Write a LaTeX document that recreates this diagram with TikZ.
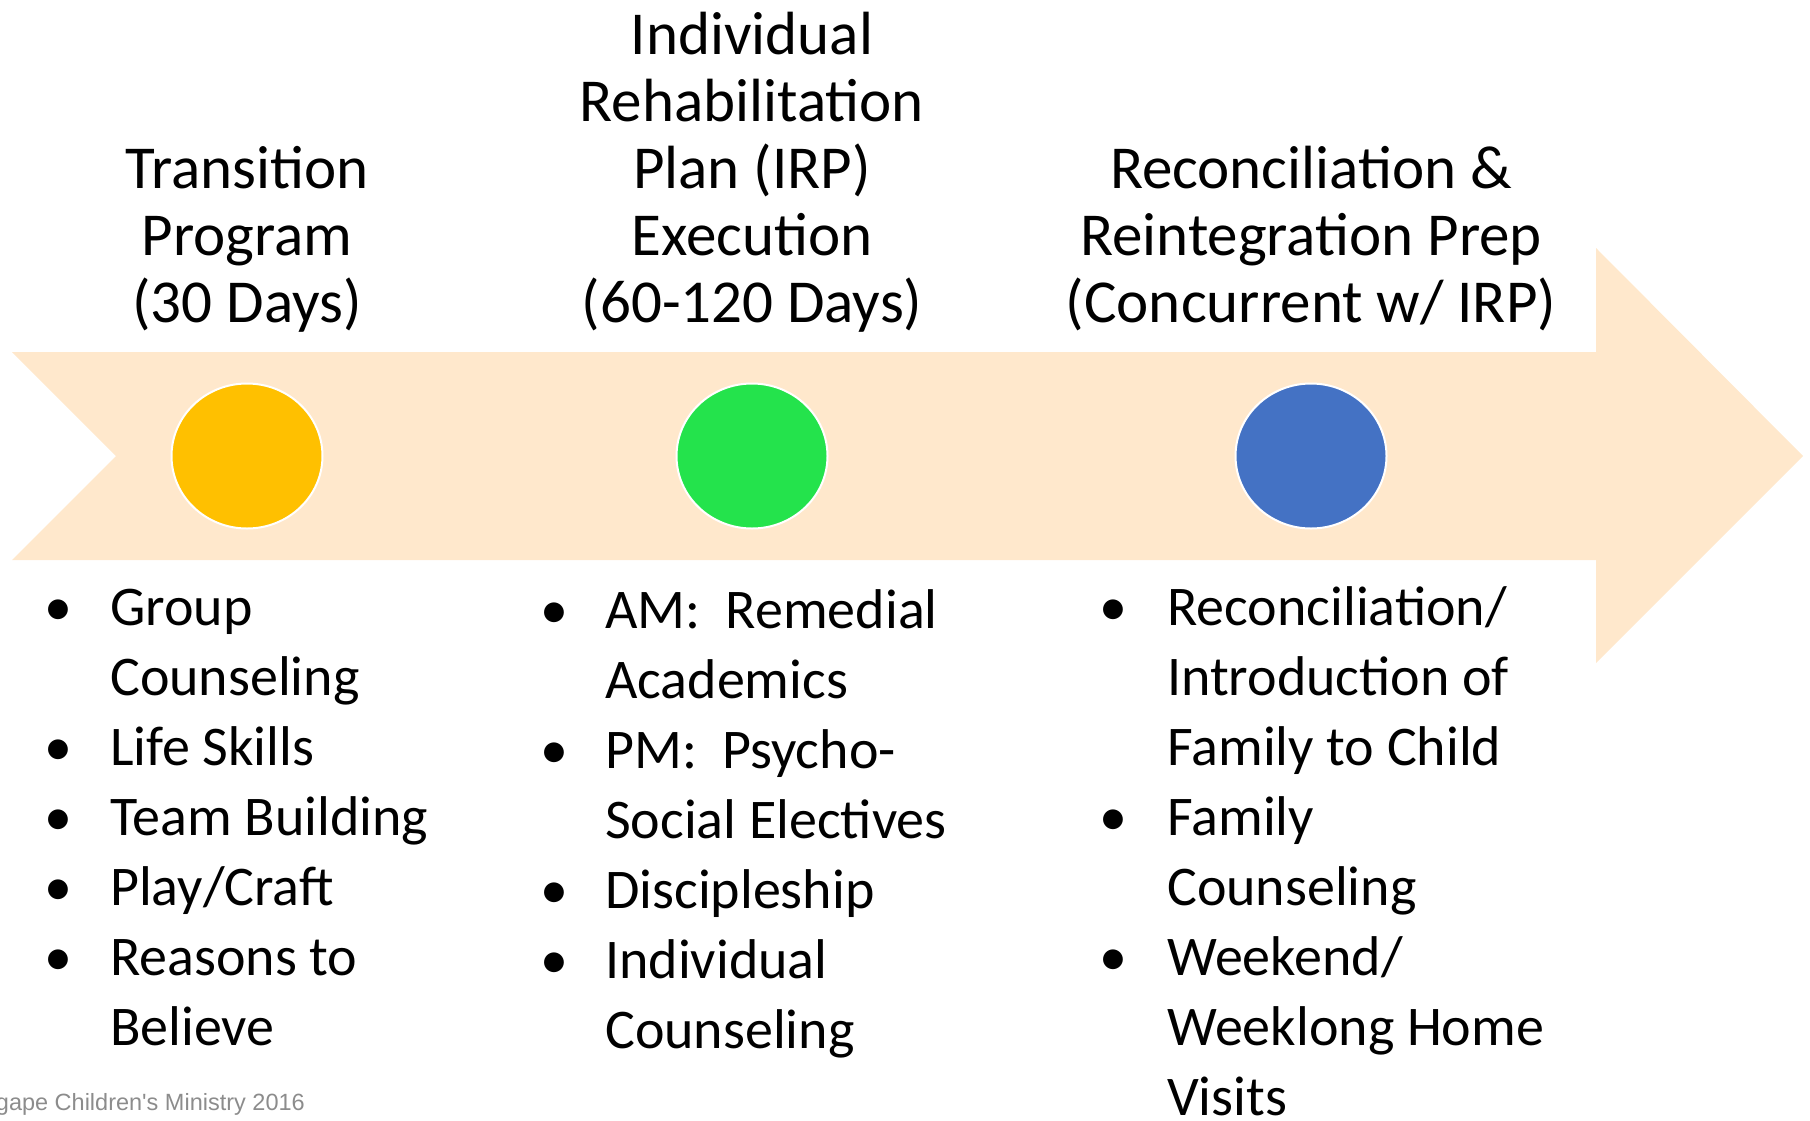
\documentclass[tikz,border=0pt]{standalone}
\usepackage{fontspec}
\setmainfont{Carlito}
\newfontfamily\footfont{Liberation Sans}
\usetikzlibrary{shapes.geometric}
\definecolor{peach}{HTML}{FFE8CC}
\definecolor{dotyellow}{HTML}{FFC000}
\definecolor{dotgreen}{HTML}{24E34C}
\definecolor{dotblue}{HTML}{4472C4}
\definecolor{footgray}{HTML}{8C8C8C}

\begin{document}
\begin{tikzpicture}[x=1pt,y=-1pt,
		head/.style={align=center,anchor=base,inner sep=0pt,font=\fontsize{61}{67}\selectfont},
		item/.style={align=left,anchor=base west,inner sep=0pt,font=\fontsize{56}{70}\selectfont},
		bul/.style={anchor=base,inner sep=0pt,font=\fontsize{56}{70}\selectfont},
		dot/.style={ellipse,draw=white,line width=2pt,minimum width=151pt,minimum height=145pt,inner sep=0pt}]
		\useasboundingbox (0,0) rectangle (1810,1120);
		\fill[peach] (12,352) -- (1596,352) -- (1596,248) -- (1803,456) -- (1596,663) -- (1596,560) -- (12,560) -- (116,456) -- cycle;
		\node[dot,fill=dotyellow] (c1) at (247,456) {};
		\node[dot,fill=dotgreen] (c2) at (752,456) {};
		\node[dot,fill=dotblue] (c3) at (1311,456) {};
		\node[head] (h1) at (247,322) {Transition\\Program\\(30 Days)};
		\node[head] (h2) at (752,322) {Individual\\Rehabilitation\\Plan (IRP)\\Execution\\(60-120 Days)};
		\node[head] (h3) at (1311,322) {Reconciliation \&\\Reintegration Prep\\(Concurrent w/ IRP)};
		\node[bul] (b11) at (58,625) {•};
		\node[item] (i11) at (110,695) {Group\\Counseling};
		\node[bul] (b12) at (58,765) {•};
		\node[item] (i12) at (110,765) {Life Skills};
		\node[bul] (b13) at (58,835) {•};
		\node[item] (i13) at (110,835) {Team Building};
		\node[bul] (b14) at (58,905) {•};
		\node[item] (i14) at (110,905) {Play/Craft};
		\node[bul] (b15) at (58,975) {•};
		\node[item] (i15) at (110,1045) {Reasons to\\Believe};
		\node[bul] (b21) at (554,628) {•};
		\node[item] (i21) at (605,698) {AM:~~Remedial\\Academics};
		\node[bul] (b22) at (554,768) {•};
		\node[item] (i22) at (605,838) {PM:~~Psycho-\\Social Electives};
		\node[bul] (b23) at (554,908) {•};
		\node[item] (i23) at (605,908) {Discipleship};
		\node[bul] (b24) at (554,978) {•};
		\node[item] (i24) at (605,1048) {Individual\\Counseling};
		\node[bul] (b31) at (1113,625) {•};
		\node[item] (i31) at (1167,765) {Reconciliation/\\Introduction of\\Family to Child};
		\node[bul] (b32) at (1113,835) {•};
		\node[item] (i32) at (1167,905) {Family\\Counseling};
		\node[bul] (b33) at (1113,975) {•};
		\node[item] (i33) at (1167,1115) {Weekend/\\Weeklong Home\\Visits};
		\node[anchor=base east,inner sep=0pt,text=footgray,font=\footfont\fontsize{23.5}{28}\selectfont] (foot) at (305,1110) {gape Children\textquotesingle s Ministry 2016};
\end{tikzpicture}
\end{document}
